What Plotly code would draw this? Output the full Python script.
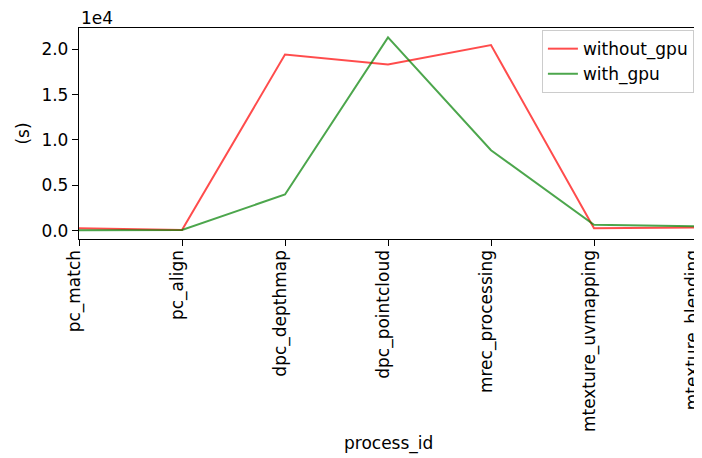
import plotly.graph_objects as go

categories = ["pc_match", "pc_align", "dpc_depthmap", "dpc_pointcloud",
              "mrec_processing", "mtexture_uvmapping", "mtexture_blending"]
without_gpu = [290, 100, 19400, 18300, 20450, 280, 360]
with_gpu = [60, 100, 4000, 21300, 8870, 660, 500]
y_tick_vals = [0, 5000, 10000, 15000, 20000]
y_tick_text = ["0.0", "0.5", "1.0", "1.5", "2.0"]

FONT = "DejaVu Sans"
fig = go.Figure()
fig.add_trace(go.Scatter(x=categories, y=without_gpu, mode="lines", name="without_gpu",
                         line=dict(color="rgba(255,0,0,0.7)", width=2)))
fig.add_trace(go.Scatter(x=categories, y=with_gpu, mode="lines", name="with_gpu",
                         line=dict(color="rgba(0,128,0,0.7)", width=2)))

fig.update_layout(
    width=702, height=458,
    margin=dict(l=71, r=13, t=19.5, b=226.5, autoexpand=False),
    paper_bgcolor="white", plot_bgcolor="white",
    font=dict(family=FONT, size=17, color="black"),
    showlegend=True,
    legend=dict(x=0.995, y=0.99, xanchor="right", yanchor="top",
                bgcolor="rgba(255,255,255,0.8)", bordercolor="#cccccc", borderwidth=1,
                font=dict(family=FONT, size=17, color="black")),
    xaxis=dict(range=[0, 6], showgrid=False, zeroline=False, automargin=False,
               showline=True, linecolor="black", linewidth=1.3, mirror=True,
               ticks="outside", ticklen=6, tickwidth=1.3, tickcolor="black",
               tickangle=-90, ticklabelstandoff=-3, ticklabelshift=-5,
               tickfont=dict(family=FONT, size=17)),
    yaxis=dict(range=[-900, 22330], showgrid=False, zeroline=False, automargin=False,
               showline=True, linecolor="black", linewidth=1.3, mirror=True,
               ticks="outside", ticklen=6, tickwidth=1.3, tickcolor="black",
               tickvals=y_tick_vals, ticktext=y_tick_text,
               tickfont=dict(family=FONT, size=17),
               title=dict(text="(s)", standoff=7, font=dict(family=FONT, size=17))),
)
fig.add_annotation(text="process_id", xref="paper", yref="paper", x=0.5, y=0,
                   xanchor="center", yanchor="middle", yshift=-204, showarrow=False,
                   font=dict(family=FONT, size=17, color="black"))
fig.add_annotation(text="1e4", xref="paper", yref="paper", x=0, y=1, xanchor="left",
                   yanchor="middle", yshift=10, showarrow=False,
                   font=dict(family=FONT, size=17, color="black"))

fig.write_html("out.html")
